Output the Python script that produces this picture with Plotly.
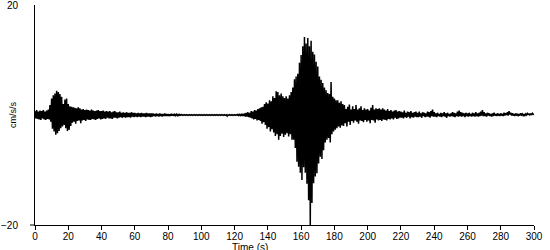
import plotly.graph_objects as go

# Peak (hi) and trough (lo) amplitudes of the record read per second, cm/s/s, t = 0..300 s
peak_hi = [
    0.7, 0.9, 0.6, 0.8, 0.7, 0.9, 0.6, 0.8, 1.0, 1.8,
    3.0, 3.6, 3.9, 4.4, 4.2, 3.8, 3.3, 2.0, 2.8, 3.0,
    2.0, 1.6, 1.5, 1.4, 1.3, 1.2, 1.4, 1.2, 1.0, 1.1,
    0.9, 1.0, 0.9, 0.8, 1.0, 0.8, 0.7, 0.8, 0.9, 0.7,
    0.7, 0.8, 0.6, 0.7, 0.6, 0.7, 0.5, 0.6, 0.7, 0.5,
    0.5, 0.6, 0.4, 0.5, 0.4, 0.5, 0.4, 0.4, 0.5, 0.4,
    0.4, 0.3, 0.4, 0.3, 0.4, 0.3, 0.3, 0.4, 0.3, 0.3,
    0.3, 0.3, 0.2, 0.3, 0.2, 0.3, 0.2, 0.2, 0.3, 0.2,
    0.2, 0.15, 0.2, 0.15, 0.1, 0.15, 0.1, 0.1, 0.1, 0.05,
    0.05, 0.05, 0.05, 0.05, 0.05, 0.05, 0.05, 0.05, 0.05, 0.05,
    0.05, 0.05, 0.05, 0.05, 0.05, 0.05, 0.05, 0.05, 0.05, 0.05,
    0.05, 0.05, 0.05, 0.05, 0.05, 0.05, 0.05, 0.05, 0.05, 0.05,
    0.05, 0.05, 0.1, 0.1, 0.1, 0.2, 0.3, 0.4, 0.5, 0.4,
    0.7, 0.6, 0.9, 0.8, 1.1, 1.2, 1.4, 1.5, 2.0, 2.3,
    2.1, 2.7, 2.5, 3.4, 3.1, 4.3, 4.2, 3.6, 3.9, 3.4,
    3.1, 3.4, 3.0, 3.6, 4.2, 5.0, 6.5, 7.0, 7.5, 9.5,
    10.9, 12.5, 14.2, 13.0, 14.0, 12.5, 13.5, 11.5, 11.0, 9.7,
    8.8, 7.0, 6.4, 5.8, 5.0, 4.5, 4.0, 3.8, 6.0, 3.3,
    3.0, 2.7, 2.7, 2.2, 2.5, 2.0, 1.8, 1.1, 1.5, 1.9,
    1.0, 1.6, 1.1, 1.8, 1.0, 1.2, 1.6, 0.9, 1.2, 1.0,
    1.1, 0.8, 1.3, 1.8, 1.0, 1.2, 1.1, 1.2, 1.0, 1.2,
    1.0, 0.8, 1.1, 0.7, 0.9, 0.6, 0.8, 0.9, 0.6, 0.7,
    0.6, 0.5, 0.8, 0.4, 0.6, 0.5, 0.7, 0.4, 0.5, 0.6,
    0.4, 0.6, 0.3, 0.5, 0.4, 0.3, 0.6, 0.5, 0.7, 1.0,
    0.5, 0.3, 0.4, 0.2, 0.4, 0.3, 0.5, 0.3, 0.4, 0.2,
    0.3, 0.5, 0.4, 0.3, 0.6, 0.8, 0.5, 0.4, 0.3, 0.4,
    0.3, 0.4, 0.2, 0.4, 0.3, 0.5, 0.3, 0.4, 0.6, 0.9,
    0.5, 0.3, 0.4, 0.3, 0.2, 0.3, 0.4, 0.2, 0.3, 0.2,
    0.3, 0.2, 0.4, 0.3, 0.5, 0.7, 0.4, 0.3, 0.2, 0.3,
    0.2, 0.1, 0.3, 0.2, 0.1, 0.2, 0.3, 0.2, 0.2, 0.3, 0.2,
]

peak_lo = [
    -0.6, -0.7, -0.8, -0.9, -0.6, -0.8, -0.9, -0.7, -0.8, -1.2,
    -2.5, -3.0, -3.6, -3.3, -2.9, -2.4, -2.1, -1.8, -2.4, -2.9,
    -2.7, -2.0, -1.4, -1.2, -1.6, -1.1, -1.0, -1.5, -1.0, -0.9,
    -1.1, -0.8, -0.9, -0.9, -0.7, -0.8, -0.9, -0.7, -0.6, -0.8,
    -0.7, -0.6, -0.7, -0.5, -0.6, -0.6, -0.7, -0.5, -0.5, -0.6,
    -0.5, -0.4, -0.5, -0.4, -0.5, -0.4, -0.4, -0.5, -0.3, -0.4,
    -0.3, -0.4, -0.3, -0.4, -0.3, -0.3, -0.4, -0.3, -0.3, -0.4,
    -0.3, -0.2, -0.3, -0.2, -0.3, -0.2, -0.3, -0.2, -0.2, -0.2,
    -0.2, -0.15, -0.1, -0.15, -0.1, -0.1, -0.1, -0.05, -0.05, -0.05,
    -0.05, -0.05, -0.05, -0.05, -0.05, -0.05, -0.05, -0.05, -0.05, -0.05,
    -0.05, -0.05, -0.05, -0.05, -0.05, -0.05, -0.05, -0.05, -0.05, -0.05,
    -0.05, -0.05, -0.05, -0.05, -0.05, -0.2, -0.05, -0.05, -0.05, -0.05,
    -0.05, -0.05, -0.1, -0.1, -0.15, -0.2, -0.3, -0.3, -0.4, -0.5,
    -0.6, -0.8, -0.7, -1.0, -0.9, -1.1, -1.6, -1.3, -1.8, -2.5,
    -2.2, -3.0, -2.6, -3.2, -3.8, -3.5, -4.5, -3.8, -3.4, -4.0,
    -3.6, -3.3, -3.9, -3.5, -4.5, -4.5, -6.0, -8.5, -9.4, -10.5,
    -11.8, -9.5, -10.5, -12.5, -15.5, -20.0, -16.0, -12.4, -11.2, -10.6,
    -8.8, -7.6, -8.0, -6.4, -5.0, -4.5, -4.2, -5.0, -3.5, -3.0,
    -2.7, -2.4, -2.1, -2.3, -1.9, -2.0, -1.5, -2.1, -1.2, -1.8,
    -1.1, -1.4, -1.0, -1.2, -1.6, -1.0, -1.1, -1.3, -0.9, -1.2,
    -1.0, -1.5, -0.9, -1.0, -1.4, -0.8, -1.0, -0.9, -1.1, -0.8,
    -0.9, -1.0, -0.7, -0.8, -0.6, -0.8, -0.5, -0.7, -0.6, -0.5,
    -0.5, -0.6, -0.4, -0.5, -0.3, -0.6, -0.4, -0.5, -0.3, -0.4,
    -0.4, -0.3, -0.5, -0.2, -0.4, -0.3, -0.3, -0.5, -0.2, -0.3,
    -0.3, -0.4, -0.2, -0.3, -0.4, -0.2, -0.3, -0.5, -0.2, -0.3,
    -0.2, -0.3, -0.4, -0.2, -0.3, -0.2, -0.3, -0.2, -0.4, -0.2,
    -0.3, -0.2, -0.3, -0.2, -0.3, -0.2, -0.3, -0.2, -0.1, -0.2,
    -0.2, -0.3, -0.1, -0.2, -0.3, -0.2, -0.1, -0.2, -0.1, -0.2,
    -0.1, -0.2, -0.1, 0.0, -0.1, 0.1, -0.1, -0.1, -0.2, -0.1,
    -0.1, -0.1, 0.0, -0.1, -0.1, 0.0, 0.1, 0.0, 0.1, 0.1, 0.1,
]

x_ticks = list(range(0, 301, 20))
y_ticks = [-20, 20]
x_label = "Time (s)"
y_label = "cm/s/s"

# Interleave peak (at t) and trough (at t + half a step) into one trace
xs, ys = [], []
for i, (h, l) in enumerate(zip(peak_hi, peak_lo)):
    xs.extend([i, i + 0.5])
    ys.extend([h, l])
xs = xs[:-1]
ys = ys[:-1]

FONT = "Liberation Sans, Arial, sans-serif"

fig = go.Figure(
    go.Scatter(x=xs, y=ys, mode="lines",
               line=dict(color="black", width=1.5, simplify=False),
               hoverinfo="skip", showlegend=False)
)

fig.update_layout(
    width=550, height=250,
    margin=dict(l=35, r=16, t=5, b=25),
    paper_bgcolor="white", plot_bgcolor="white",
    font=dict(family=FONT, size=10, color="black"),
    xaxis=dict(range=[0, 300], tickvals=x_ticks, ticks="outside", ticklen=4,
               tickcolor="black", tickwidth=1, showline=True, linecolor="black",
               linewidth=1, showgrid=False, zeroline=False, automargin=False,
               ticklabelstandoff=-2,
               tickfont=dict(family=FONT, size=10, color="black")),
    yaxis=dict(range=[-20, 20], tickvals=y_ticks, ticks="", showline=True,
               linecolor="black", linewidth=1, showgrid=False, zeroline=False,
               automargin=False, ticklabelstandoff=14, ticklabeloverflow="allow",
               tickfont=dict(family=FONT, size=10, color="black")),
    annotations=[
        dict(text=x_label, xref="paper", yref="paper", x=(250 - 35) / 499, y=0,
             xanchor="center", yanchor="top", yshift=-15, showarrow=False,
             font=dict(family=FONT, size=10, color="black")),
        dict(text=y_label, xref="paper", yref="paper", x=0, y=0.5,
             xanchor="center", yanchor="middle", xshift=-22, textangle=-90,
             showarrow=False, font=dict(family=FONT, size=9, color="black")),
    ],
    shapes=[dict(type="line", xref="paper", yref="paper", x0=-5 / 499, x1=0,
                 y0=0, y1=0, line=dict(color="black", width=1))],
)

fig.write_html("out.html")
